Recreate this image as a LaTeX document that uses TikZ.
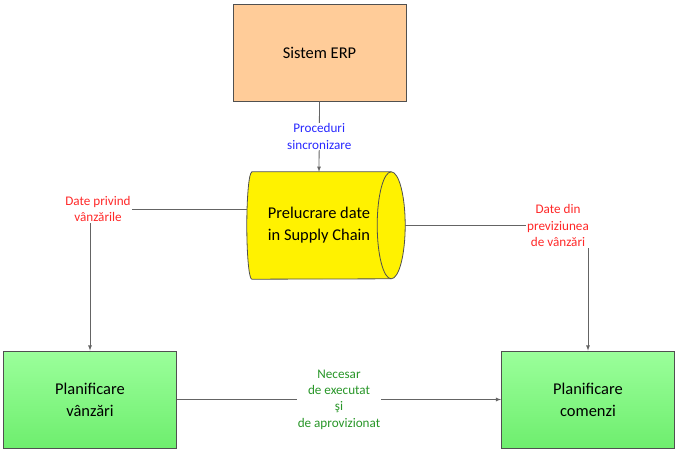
\documentclass[tikz,border=0pt]{standalone}
\usepackage{fontspec}
\setmainfont{Carlito}
\usepackage{tikz}
\usetikzlibrary{arrows,shapes}
\definecolor{peach}{RGB}{255,204,153}
\definecolor{lgreen}{RGB}{155,255,155}
\definecolor{dgreen}{RGB}{110,238,110}
\definecolor{bordergray}{RGB}{80,80,80}
\definecolor{linegray}{RGB}{100,100,100}
\definecolor{lblblue}{RGB}{40,40,255}
\definecolor{lblred}{RGB}{255,40,40}
\definecolor{lblgreen}{RGB}{40,150,40}

\begin{document}
\begin{tikzpicture}[
  box/.style={draw=bordergray,line width=0.8bp,minimum width=173bp,minimum height=97bp,align=center,font=\fontsize{16.5}{22}\selectfont},
  conn/.style={draw=linegray,line width=0.8bp},
  lbl/.style={fill=white,inner sep=1bp,align=center,font=\fontsize{13.2}{16.5}\selectfont}
]
\useasboundingbox (0bp,0bp) rectangle (680bp,-454bp);

\node (ERP) at (319.5bp,-52.5bp)[box,fill=peach] {Sistem ERP};
\node (PSC) at (319bp,-225.5bp)[minimum width=144bp,minimum height=107bp,inner sep=0pt] {};
\node (PV) at (90bp,-399.5bp)[box,top color=lgreen,bottom color=dgreen] {Planificare\\vânzări};
\node (PC) at (588bp,-399.5bp)[box,top color=lgreen,bottom color=dgreen] {Planificare\\comenzi};

% cylinder
\filldraw[fill=yellow,draw=bordergray,line width=0.8bp] ([xshift=5bp]PSC.north west) -- (PSC.north east)
  arc[start angle=90,end angle=-90,x radius=14bp,y radius=53.5bp] -- ([xshift=5bp]PSC.south west)
  arc[start angle=-90,end angle=-270,x radius=5bp,y radius=53.5bp] -- cycle;
\draw[draw=bordergray,line width=0.8bp] (PSC.north east) arc[start angle=90,end angle=270,x radius=14bp,y radius=53.5bp];
\node (PSCtext) at (PSC) [align=center,font=\fontsize{16.5}{22}\selectfont] {Prelucrare date\\in Supply Chain};

\draw [conn,-latex] (ERP.south) -- (PSC.north) node[midway,lbl,text=lblblue] {Proceduri\\sincronizare};
\draw [conn,-latex] ([yshift=16.5bp]PSC.west) -| (PV.north) node[pos=0.5,lbl,text=lblred,xshift=8bp] {Date privind\\vânzările};
\draw [conn,-latex] ([xshift=14bp]PSC.east) -| (PC.north) node[pos=0.5,lbl,text=lblred,xshift=-30bp] {Date din\\previziunea\\de vânzări};
\draw [conn,-latex] (PV.east) -- (PC.west) node[midway,lbl,text=lblgreen] {Necesar\\de executat\\şi\\de aprovizionat};
\end{tikzpicture}
\end{document}
